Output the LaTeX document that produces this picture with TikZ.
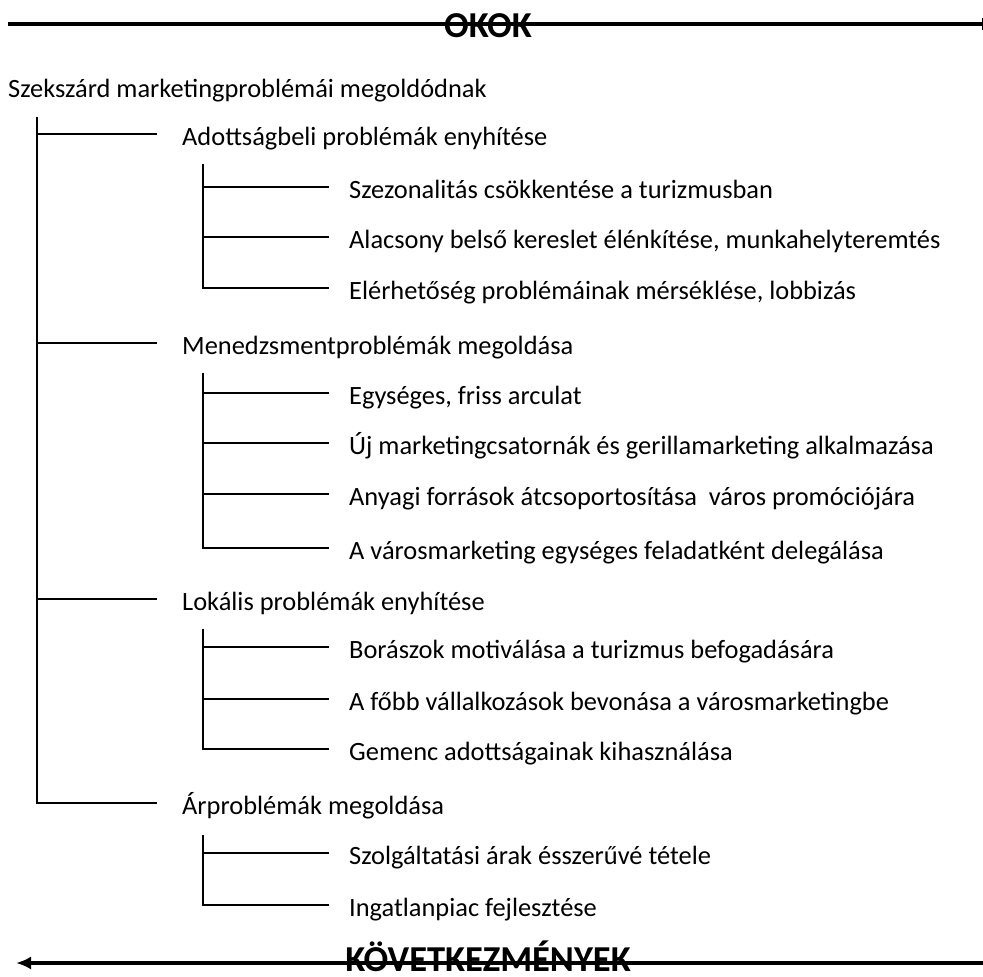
\documentclass[tikz,border=0pt]{standalone}
\usepackage{fontspec}
\setmainfont{Carlito}
\usetikzlibrary{arrows.meta}
\begin{document}
\begin{tikzpicture}[x=1pt,y=-1pt,
  lbl/.style={anchor=base west,inner sep=0pt,font=\fontsize{26.4}{31}\selectfont},
  head/.style={anchor=base,inner sep=0pt,font=\fontsize{36.5}{42}\selectfont\bfseries},
  conn/.style={line width=2pt,line cap=rect},
  bigarrow/.style={line width=3.5pt,-{Latex[length=15pt,width=13pt]}}]
\useasboundingbox (0,0) rectangle (983,977);
\fill[white] (0,0) rectangle (983,977);

% headings
\node[head] (okok) at (488,37) {OKOK};
\node[head] (kovet) at (488,971) {KÖVETKEZMÉNYEK};
\coordinate (okL) at (8,24);
\coordinate (okR) at (997,24);
\coordinate (kvL) at (16,963);
\coordinate (kvR) at (995,963);
\draw[bigarrow] (okL) -- (okR);
\draw[bigarrow] (kvR) -- (kvL);

% root
\node[lbl] (root) at (8,97) {Szekszárd marketingproblémái megoldódnak};

% level 1
\node[lbl] (A) at (182,145) {Adottságbeli problémák enyhítése};
\node[lbl] (M) at (182,354) {Menedzsmentproblémák megoldása};
\node[lbl] (L) at (182,610) {Lokális problémák enyhítése};
\node[lbl] (R) at (182,814) {Árproblémák megoldása};

% level 2
\node[lbl] (A1) at (349,198) {Szezonalitás csökkentése a turizmusban};
\node[lbl] (A2) at (349,248) {Alacsony belső kereslet élénkítése, munkahelyteremtés};
\node[lbl] (A3) at (349,299) {Elérhetőség problémáinak mérséklése, lobbizás};
\node[lbl] (M1) at (349,404) {Egységes, friss arculat};
\node[lbl] (M2) at (349,454) {Új marketingcsatornák és gerillamarketing alkalmazása};
\node[lbl] (M3) at (349,505) {Anyagi források átcsoportosítása\ \ város promóciójára};
\node[lbl] (M4) at (349,559) {A városmarketing egységes feladatként delegálása};
\node[lbl] (L1) at (349,658) {Borászok motiválása\ a turizmus\ befogadására};
\node[lbl] (L2) at (349,710) {A főbb vállalkozások\ bevonása a városmarketingbe};
\node[lbl] (L3) at (349,760) {Gemenc adottságainak kihasználása};
\node[lbl] (R1) at (349,864) {Szolgáltatási árak ésszerűvé tétele};
\node[lbl] (R2) at (349,916) {Ingatlanpiac fejlesztése};

% branch end points
\foreach \n in {A,M,L,R,A1,A2,A3,M1,M2,M3,M4,L1,L2,L3,R1,R2}
  \coordinate (\n-e) at ([xshift=-21pt,yshift=11pt]\n.base west);
\foreach \n in {A,M,L}
  \coordinate (\n-t) at ([xshift=21pt,yshift=-20pt]\n.base west);
\coordinate (R-t) at ([xshift=21pt,yshift=-22pt]R.base west);
\coordinate (trunk) at ([xshift=29pt,yshift=-21pt]root.base west);

% level-1 connectors
\draw[conn] (trunk) |- ([xshift=-5pt]R-e);
\foreach \n in {A,M,L}
  \draw[conn] (trunk |- \n-e) -- ([xshift=-5pt]\n-e);

% level-2 connectors
\draw[conn] (A-t) |- (A3-e);
\draw[conn] (A-t |- A1-e) -- (A1-e);
\draw[conn] (A-t |- A2-e) -- (A2-e);
\draw[conn] (M-t) |- (M4-e);
\draw[conn] (M-t |- M1-e) -- (M1-e);
\draw[conn] (M-t |- M2-e) -- (M2-e);
\draw[conn] (M-t |- M3-e) -- (M3-e);
\draw[conn] (L-t) |- (L3-e);
\draw[conn] (L-t |- L1-e) -- (L1-e);
\draw[conn] (L-t |- L2-e) -- (L2-e);
\draw[conn] (R-t) |- (R2-e);
\draw[conn] (R-t |- R1-e) -- (R1-e);
\end{tikzpicture}
\end{document}
